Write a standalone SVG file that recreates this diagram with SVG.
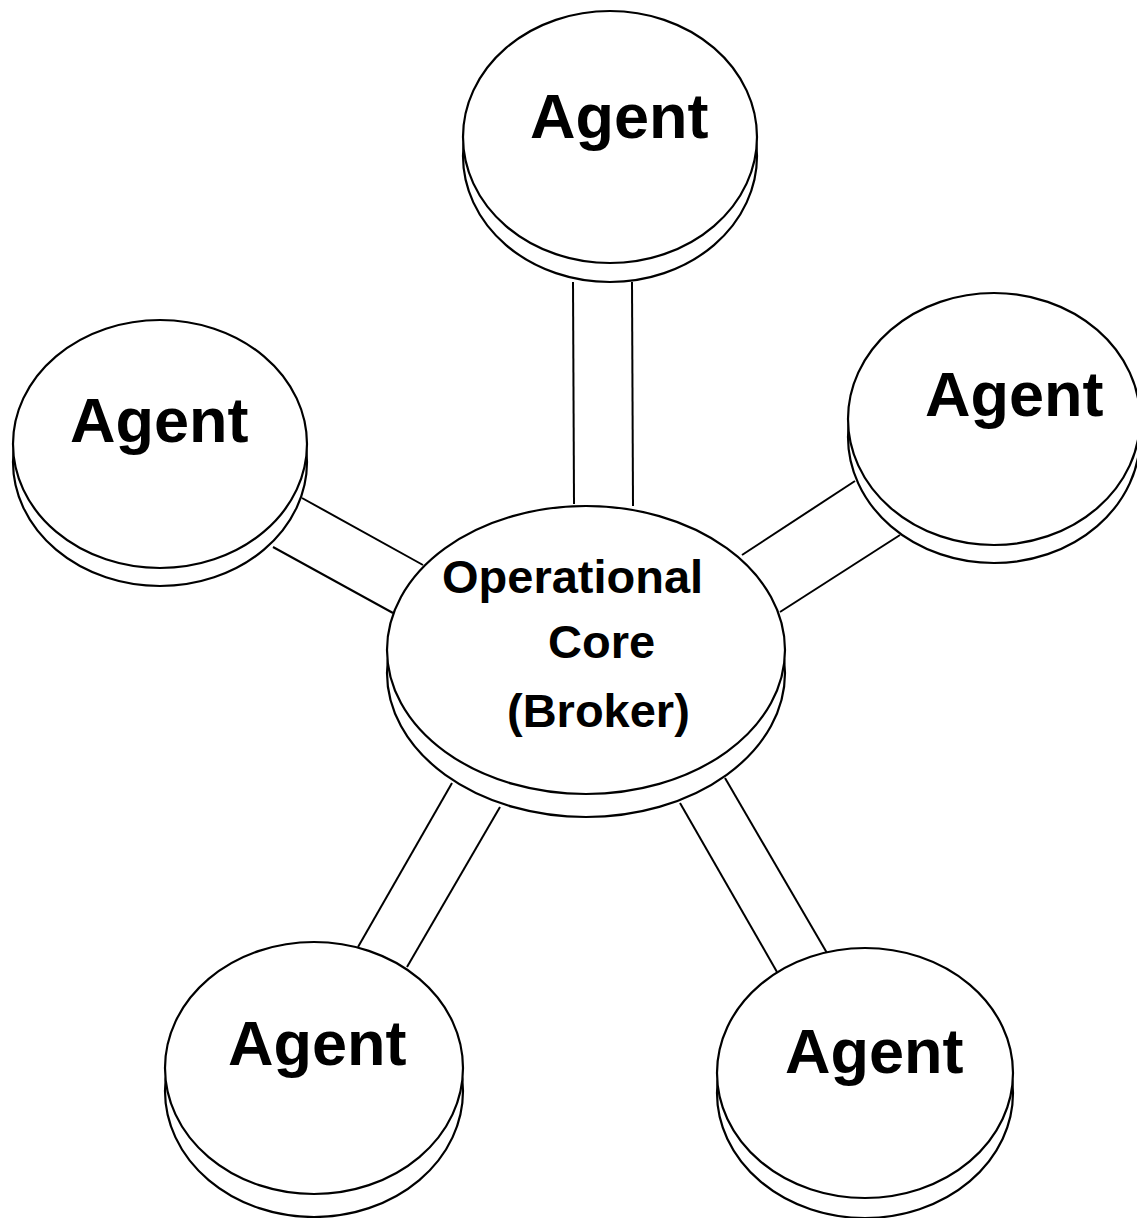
<svg xmlns="http://www.w3.org/2000/svg" width="1137" height="1218" viewBox="0 0 1137 1218">
<style>
.e{fill:#fff;stroke:#000;stroke-width:2.2}
.c line{stroke:#000;stroke-width:2}
.a{font-family:"Liberation Sans",Arial,sans-serif;font-weight:bold;font-size:63px;fill:#000}
.k{font-family:"Liberation Sans",Arial,sans-serif;font-weight:bold;font-size:47px;fill:#000}
</style>
<rect width="1137" height="1218" fill="#fff"/>
<g id="connectors" class="c">
<line x1="573" y1="282" x2="574" y2="504"/>
<line x1="632" y1="282" x2="633" y2="506"/>
<line x1="302" y1="498" x2="423" y2="565"/>
<line x1="273" y1="547" x2="393" y2="613"/>
<line x1="855" y1="481" x2="742" y2="555"/>
<line x1="900" y1="535" x2="780" y2="612"/>
<line x1="452" y1="783" x2="358" y2="947"/>
<line x1="500" y1="807" x2="407" y2="967"/>
<line x1="680" y1="803" x2="777" y2="972"/>
<line x1="725" y1="778" x2="827" y2="953"/>
</g>
<g id="agent-top">
<ellipse class="e" cx="610" cy="156" rx="147" ry="126"/>
<ellipse class="e" cx="610" cy="137" rx="147" ry="126"/>
<text class="a" x="530" y="138">Agent</text>
</g>
<g id="agent-left">
<ellipse class="e" cx="160" cy="462" rx="147" ry="124"/>
<ellipse class="e" cx="160" cy="444" rx="147" ry="124"/>
<text class="a" x="70" y="442">Agent</text>
</g>
<g id="agent-right">
<ellipse class="e" cx="994" cy="437" rx="146" ry="126"/>
<ellipse class="e" cx="994" cy="419" rx="146" ry="126"/>
<text class="a" x="925" y="416">Agent</text>
</g>
<g id="core">
<ellipse class="e" cx="586" cy="673" rx="199" ry="144"/>
<ellipse class="e" cx="586" cy="650" rx="199" ry="144"/>
<text class="k" x="442" y="593">Operational</text>
<text class="k" x="548" y="658">Core</text>
<text class="k" x="507" y="727">(Broker)</text>
</g>
<g id="agent-bottom-left">
<ellipse class="e" cx="314" cy="1091" rx="149" ry="126"/>
<ellipse class="e" cx="314" cy="1068" rx="149" ry="126"/>
<text class="a" x="228" y="1065">Agent</text>
</g>
<g id="agent-bottom-right">
<ellipse class="e" cx="865" cy="1093" rx="148" ry="125"/>
<ellipse class="e" cx="865" cy="1073" rx="148" ry="125"/>
<text class="a" x="785" y="1073">Agent</text>
</g>
</svg>
